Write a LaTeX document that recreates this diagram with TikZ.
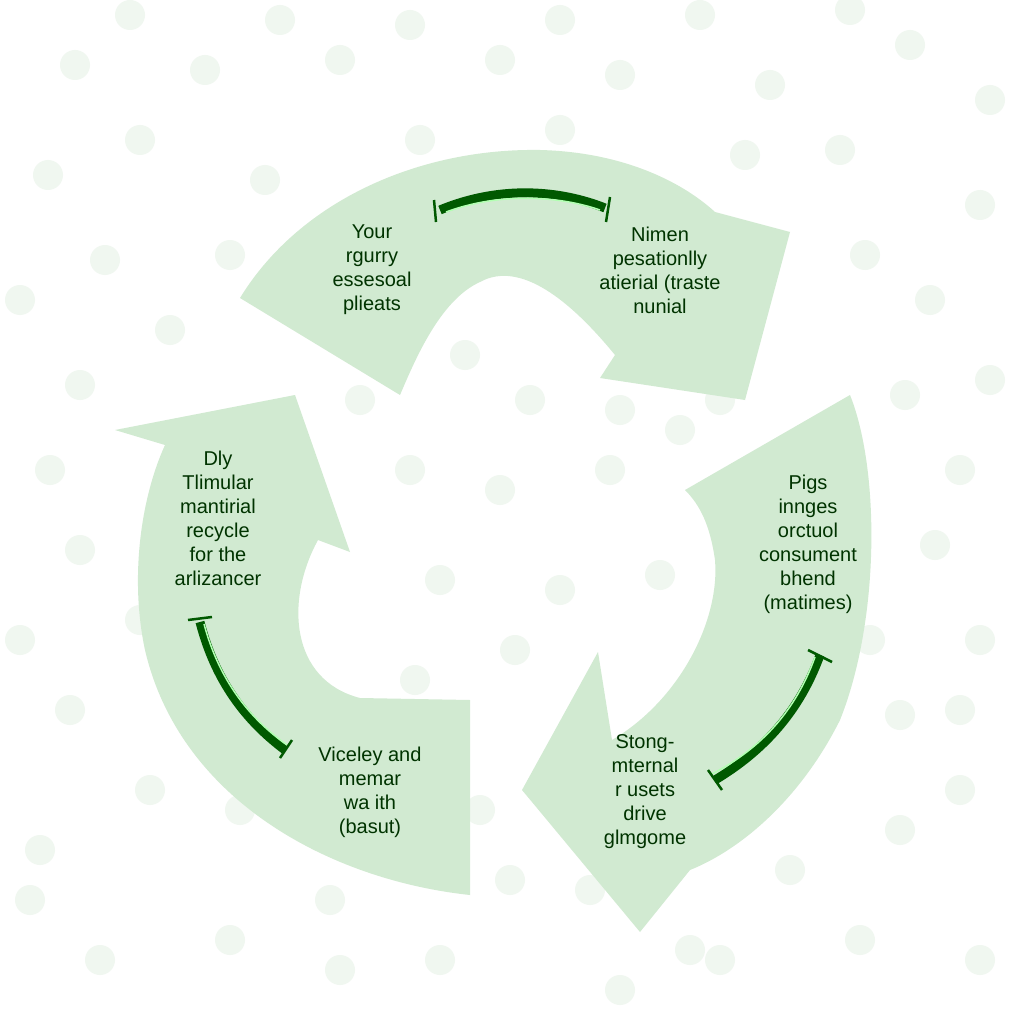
\documentclass[tikz,border=0pt]{standalone}
\usepackage{fontspec}
\setsansfont{Liberation Sans}
\begin{document}
\begin{tikzpicture}[x=1pt,y=-1pt,
  seg/.style={fill=green!55!black!18, draw=none},
  bar/.style={draw=green!35!black, line width=9pt, line cap=butt},
  barin/.style={draw=green!30!white, line width=1.5pt},
  lbl/.style={font=\sffamily\fontsize{20}{24}\selectfont, text=green!20!black, align=center},
  dot/.style={fill=green!50!black!6, draw=none}]
\useasboundingbox (0,0) rectangle (1024,1024);
\fill[white] (0,0) rectangle (1024,1024);
\foreach \x/\y in {130/15,280/20,410/25,560/20,700/15,850/10,75/65,205/70,340/60,500/60,620/75,770/85,910/45,990/100,
 48/175,140/140,265/180,420/140,560/130,745/155,840/150,980/205,105/260,230/255,865/255,930/300,20/300,80/385,170/330,
 360/400,465/355,530/400,620/410,720/400,905/395,990/380,50/470,195/460,410/470,500/490,610/470,680/430,960/470,
 80/550,440/580,560/590,660/575,935/545,20/640,140/620,515/650,415/680,870/640,980/640,70/710,240/810,150/790,330/900,
 410/820,510/880,590/890,690/950,790/870,900/830,960/790,40/850,100/960,230/940,440/960,620/990,720/960,860/940,980/960,
 900/715,960/710,30/900,340/970,480/810}
  \fill[dot] (\x,\y) circle (15);
% top segment
\path[seg] (240,298) .. controls (300,200) and (420,148) .. (540,150)
  .. controls (620,152) and (680,180) .. (715,212) -- (790,232) -- (745,400) -- (600,378) -- (615,355)
  .. controls (570,300) and (520,260) .. (480,282) .. controls (440,300) and (415,360) .. (400,395) -- cycle;
% right segment
\path[seg] (685,490) -- (850,395) .. controls (880,470) and (880,620) .. (840,720)
  .. controls (800,800) and (740,850) .. (690,870) -- (640,932) -- (522,790) -- (598,652) -- (612,740)
  .. controls (680,700) and (720,620) .. (715,560) .. controls (710,525) and (700,505) .. (685,490) -- cycle;
% left segment
\path[seg] (295,395) -- (350,552) -- (318,540) .. controls (285,600) and (290,680) .. (360,698)
  -- (470,700) -- (470,895) .. controls (330,880) and (180,800) .. (145,650)
  .. controls (130,580) and (140,500) .. (165,445) -- (115,430) -- cycle;
% dark bars
\draw[bar] (440,210) .. controls (500,185) and (560,190) .. (605,208);
\draw[barin] (446,212) .. controls (500,192) and (560,196) .. (600,210);
\draw[bar] (200,622) .. controls (215,680) and (245,720) .. (285,750);
\draw[barin] (204,624) .. controls (219,680) and (249,718) .. (287,745);
\draw[bar] (820,655) .. controls (800,710) and (765,750) .. (715,780);
\draw[barin] (815,657) .. controls (796,710) and (762,748) .. (712,774);
\draw[green!35!black, line width=2.5pt] (434,200)--(436,222) (610,197)--(606,222) (188,620)--(212,617) (280,758)--(292,740) (808,650)--(832,662) (708,770)--(722,790);
% labels
\node[lbl] (t1) at (372,270) {Your\\rgurry\\essesoal\\plieats};
\node[lbl] (t2) at (660,270) {Nimen\\pesationlly\\atierial (traste\\nunial};
\node[lbl] (t3) at (218,518) {Dly\\Tlimular\\mantirial\\recycle\\for the\\arlizancer};
\node[lbl] (t4) at (808,544) {Pigs\\innges\\orctuol\\consument\\bhend\\(matimes)};
\node[lbl] (t5) at (370,792) {Viceley and\\memar\\wa ith\\(basut)};
\node[lbl] (t6) at (645,792) {Stong-\\mternal\\r usets\\drive\\glmgome};
\end{tikzpicture}
\end{document}
